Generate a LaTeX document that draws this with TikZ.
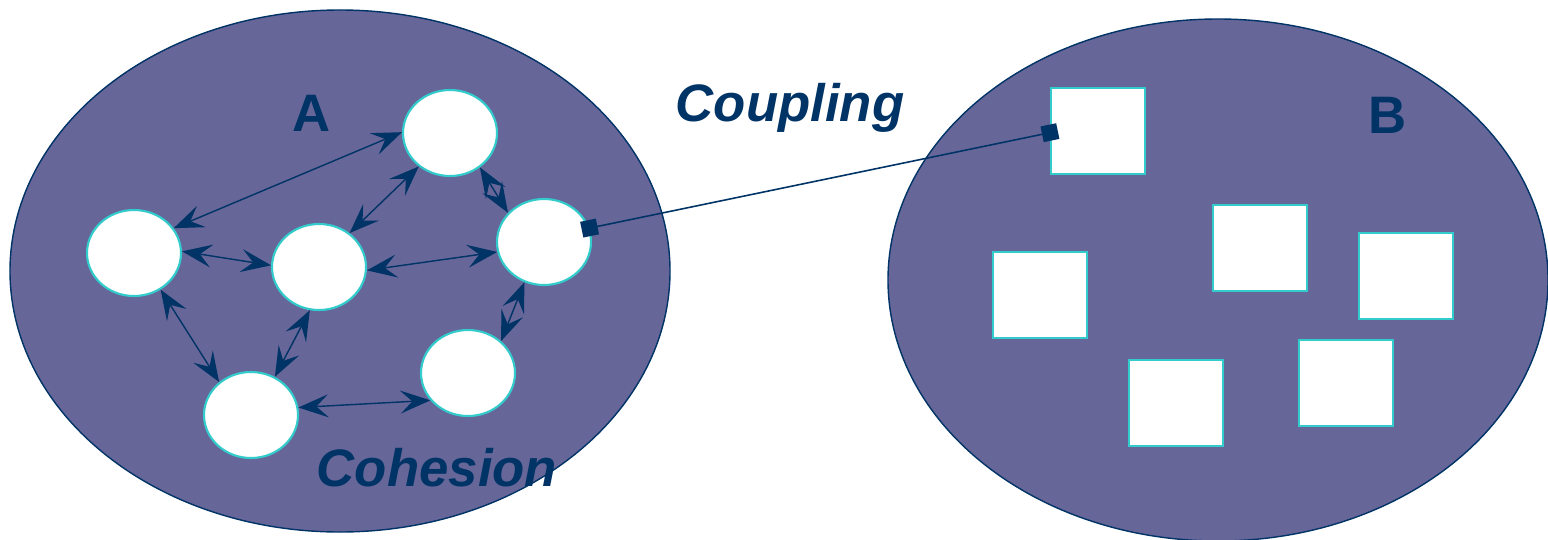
\documentclass[tikz,border=0pt]{standalone}
\usepackage{fontspec}
\setmainfont{Liberation Sans}
\usepackage{tikz}
\usetikzlibrary{arrows.meta,shapes.geometric}
\definecolor{lila}{RGB}{102,102,153}
\definecolor{marino}{RGB}{0,51,102}
\definecolor{turquesa}{RGB}{51,204,204}

\begin{document}
\begin{tikzpicture}[x=0.2mm,y=-0.2mm,
conjunto/.style={ellipse,draw=marino,fill=lila,line width=0.8pt,minimum width=132mm,minimum height=104.4mm},
modulo/.style={ellipse,draw=turquesa,fill=white,line width=1.2pt,minimum width=18.8mm,minimum height=17.2mm,inner sep=0pt},
clase/.style={draw=turquesa,fill=white,line width=1.2pt,minimum width=18.8mm,minimum height=17.2mm,inner sep=0pt},
dbl/.style={{Stealth[length=6mm,width=4.6mm,inset=2.4mm]}-{Stealth[length=6mm,width=4.6mm,inset=2.4mm]},draw=marino,fill=marino,line width=0.8pt},
acople/.style={{Square[length=3.2mm,width=3.2mm]}-{Square[length=3.2mm,width=3.2mm]},draw=marino,line width=0.9pt,shorten <=-1.6mm,shorten >=-1.6mm},
titulo/.style={text=marino,font=\bfseries\fontsize{30}{30}\selectfont},
rotulo/.style={text=marino,font=\bfseries\itshape\fontsize{30}{30}\selectfont}
]
\useasboundingbox (0,0) rectangle (1548,539);

\node[conjunto] (setA) at (340,271) {};
\node[conjunto] (setB) at (1218,280) {};

\node[modulo] (m1) at (450,133) {};
\node[modulo] (m2) at (134,253) {};
\node[modulo] (m3) at (319,267) {};
\node[modulo] (m4) at (544,242) {};
\node[modulo] (m5) at (468,373) {};
\node[modulo] (m6) at (251,415) {};

\node[clase] (c1) at (1098,131) {};
\node[clase] (c2) at (1260,248) {};
\node[clase] (c3) at (1040,295) {};
\node[clase] (c4) at (1406,276) {};
\node[clase] (c5) at (1176,403) {};
\node[clase] (c6) at (1346,383) {};

\node[titulo] (labA) at (312,113) {A};
\node[titulo] (labB) at (1388,115) {B};
\node[rotulo] (coupling) at (790,108) {Coupling};
\node[rotulo] (cohesion) at (437,468) {Cohesion};

\foreach \a/\b in {m2.32/m1.179,m2.2/m3.178,m3.48/m1.227,m3.-4/m4.192,m1.-49/m4.141,
                   m2.-54/m6.134,m3.258/m6.58,m6.9/m5.216,m5.44/m4.244}
  \draw[dbl] (\a) -- (\b);

\draw[acople] (m4.17) -- (c1.-178);
\end{tikzpicture}
\end{document}
